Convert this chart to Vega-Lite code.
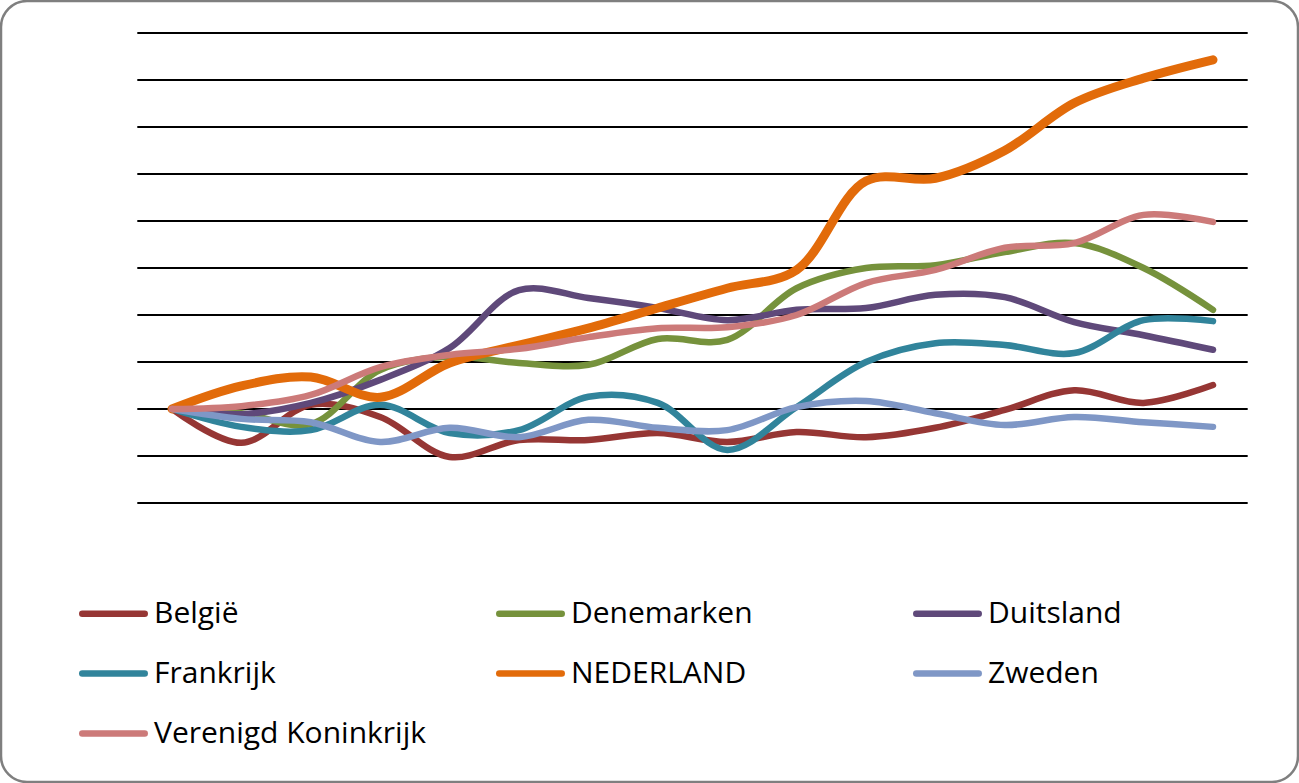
{
  "$schema": "https://vega.github.io/schema/vega-lite/v6.json",
  "width": 1297,
  "height": 781,
  "padding": 1,
  "autosize": {"type": "none"},
  "background": "white",
  "config": {
    "view": {"stroke": "#7f7f7f", "strokeWidth": 2.5, "cornerRadius": 26, "fill": "white"},
    "legend": {
      "labelFont": "Open Sans",
      "labelFontSize": 30,
      "labelColor": "black",
      "labelLimit": 400
    }
  },
  "datasets": {
    "grid": [
      {"niveau": 80}, {"niveau": 90}, {"niveau": 100}, {"niveau": 110}, {"niveau": 120},
      {"niveau": 130}, {"niveau": 140}, {"niveau": 150}, {"niveau": 160}, {"niveau": 170}, {"niveau": 180}
    ],
    "series": [
      {"land": "België", "punt": 1, "index": 100},
      {"land": "België", "punt": 2, "index": 92.8},
      {"land": "België", "punt": 3, "index": 100.9},
      {"land": "België", "punt": 4, "index": 98.3},
      {"land": "België", "punt": 5, "index": 89.8},
      {"land": "België", "punt": 6, "index": 93.4},
      {"land": "België", "punt": 7, "index": 93.4},
      {"land": "België", "punt": 8, "index": 94.9},
      {"land": "België", "punt": 9, "index": 93.0},
      {"land": "België", "punt": 10, "index": 95.1},
      {"land": "België", "punt": 11, "index": 94.0},
      {"land": "België", "punt": 12, "index": 96.0},
      {"land": "België", "punt": 13, "index": 99.8},
      {"land": "België", "punt": 14, "index": 104.0},
      {"land": "België", "punt": 15, "index": 101.3},
      {"land": "België", "punt": 16, "index": 105.1},
      {"land": "Denemarken", "punt": 1, "index": 100},
      {"land": "Denemarken", "punt": 2, "index": 99.1},
      {"land": "Denemarken", "punt": 3, "index": 96.8},
      {"land": "Denemarken", "punt": 4, "index": 108.3},
      {"land": "Denemarken", "punt": 5, "index": 111.1},
      {"land": "Denemarken", "punt": 6, "index": 109.8},
      {"land": "Denemarken", "punt": 7, "index": 109.4},
      {"land": "Denemarken", "punt": 8, "index": 114.9},
      {"land": "Denemarken", "punt": 9, "index": 114.7},
      {"land": "Denemarken", "punt": 10, "index": 125.7},
      {"land": "Denemarken", "punt": 11, "index": 130.0},
      {"land": "Denemarken", "punt": 12, "index": 130.6},
      {"land": "Denemarken", "punt": 13, "index": 133.4},
      {"land": "Denemarken", "punt": 14, "index": 135.3},
      {"land": "Denemarken", "punt": 15, "index": 130.0},
      {"land": "Denemarken", "punt": 16, "index": 121.1},
      {"land": "Duitsland", "punt": 1, "index": 100},
      {"land": "Duitsland", "punt": 2, "index": 98.9},
      {"land": "Duitsland", "punt": 3, "index": 101.3},
      {"land": "Duitsland", "punt": 4, "index": 106.2},
      {"land": "Duitsland", "punt": 5, "index": 113.0},
      {"land": "Duitsland", "punt": 6, "index": 125.3},
      {"land": "Duitsland", "punt": 7, "index": 123.6},
      {"land": "Duitsland", "punt": 8, "index": 121.5},
      {"land": "Duitsland", "punt": 9, "index": 118.9},
      {"land": "Duitsland", "punt": 10, "index": 121.1},
      {"land": "Duitsland", "punt": 11, "index": 121.5},
      {"land": "Duitsland", "punt": 12, "index": 124.3},
      {"land": "Duitsland", "punt": 13, "index": 123.8},
      {"land": "Duitsland", "punt": 14, "index": 118.5},
      {"land": "Duitsland", "punt": 15, "index": 115.7},
      {"land": "Duitsland", "punt": 16, "index": 112.6},
      {"land": "Frankrijk", "punt": 1, "index": 100},
      {"land": "Frankrijk", "punt": 2, "index": 96.2},
      {"land": "Frankrijk", "punt": 3, "index": 95.5},
      {"land": "Frankrijk", "punt": 4, "index": 100.9},
      {"land": "Frankrijk", "punt": 5, "index": 94.9},
      {"land": "Frankrijk", "punt": 6, "index": 95.5},
      {"land": "Frankrijk", "punt": 7, "index": 102.6},
      {"land": "Frankrijk", "punt": 8, "index": 101.3},
      {"land": "Frankrijk", "punt": 9, "index": 91.3},
      {"land": "Frankrijk", "punt": 10, "index": 100.4},
      {"land": "Frankrijk", "punt": 11, "index": 110.0},
      {"land": "Frankrijk", "punt": 12, "index": 114.0},
      {"land": "Frankrijk", "punt": 13, "index": 113.6},
      {"land": "Frankrijk", "punt": 14, "index": 111.9},
      {"land": "Frankrijk", "punt": 15, "index": 118.9},
      {"land": "Frankrijk", "punt": 16, "index": 118.7},
      {"land": "NEDERLAND", "punt": 1, "index": 100},
      {"land": "NEDERLAND", "punt": 2, "index": 104.9},
      {"land": "NEDERLAND", "punt": 3, "index": 106.8},
      {"land": "NEDERLAND", "punt": 4, "index": 102.5},
      {"land": "NEDERLAND", "punt": 5, "index": 109.8},
      {"land": "NEDERLAND", "punt": 6, "index": 113.6},
      {"land": "NEDERLAND", "punt": 7, "index": 117.2},
      {"land": "NEDERLAND", "punt": 8, "index": 121.5},
      {"land": "NEDERLAND", "punt": 9, "index": 125.7},
      {"land": "NEDERLAND", "punt": 10, "index": 129.6},
      {"land": "NEDERLAND", "punt": 11, "index": 148.5},
      {"land": "NEDERLAND", "punt": 12, "index": 149.1},
      {"land": "NEDERLAND", "punt": 13, "index": 155.0},
      {"land": "NEDERLAND", "punt": 14, "index": 165.1},
      {"land": "NEDERLAND", "punt": 15, "index": 170.4},
      {"land": "NEDERLAND", "punt": 16, "index": 174.3},
      {"land": "Zweden", "punt": 1, "index": 100},
      {"land": "Zweden", "punt": 2, "index": 97.9},
      {"land": "Zweden", "punt": 3, "index": 97.2},
      {"land": "Zweden", "punt": 4, "index": 93.0},
      {"land": "Zweden", "punt": 5, "index": 96.0},
      {"land": "Zweden", "punt": 6, "index": 94.0},
      {"land": "Zweden", "punt": 7, "index": 97.7},
      {"land": "Zweden", "punt": 8, "index": 96.0},
      {"land": "Zweden", "punt": 9, "index": 95.5},
      {"land": "Zweden", "punt": 10, "index": 100.4},
      {"land": "Zweden", "punt": 11, "index": 101.7},
      {"land": "Zweden", "punt": 12, "index": 99.1},
      {"land": "Zweden", "punt": 13, "index": 96.6},
      {"land": "Zweden", "punt": 14, "index": 98.3},
      {"land": "Zweden", "punt": 15, "index": 97.2},
      {"land": "Zweden", "punt": 16, "index": 96.2},
      {"land": "Verenigd Koninkrijk", "punt": 1, "index": 100},
      {"land": "Verenigd Koninkrijk", "punt": 2, "index": 100.6},
      {"land": "Verenigd Koninkrijk", "punt": 3, "index": 103.0},
      {"land": "Verenigd Koninkrijk", "punt": 4, "index": 108.9},
      {"land": "Verenigd Koninkrijk", "punt": 5, "index": 111.5},
      {"land": "Verenigd Koninkrijk", "punt": 6, "index": 112.8},
      {"land": "Verenigd Koninkrijk", "punt": 7, "index": 115.3},
      {"land": "Verenigd Koninkrijk", "punt": 8, "index": 117.2},
      {"land": "Verenigd Koninkrijk", "punt": 9, "index": 117.4},
      {"land": "Verenigd Koninkrijk", "punt": 10, "index": 120.0},
      {"land": "Verenigd Koninkrijk", "punt": 11, "index": 126.8},
      {"land": "Verenigd Koninkrijk", "punt": 12, "index": 129.6},
      {"land": "Verenigd Koninkrijk", "punt": 13, "index": 134.3},
      {"land": "Verenigd Koninkrijk", "punt": 14, "index": 135.3},
      {"land": "Verenigd Koninkrijk", "punt": 15, "index": 141.3},
      {"land": "Verenigd Koninkrijk", "punt": 16, "index": 139.8}
    ]
  },
  "layer": [
    {
      "data": {"name": "grid"},
      "mark": {"type": "rule", "color": "black", "strokeWidth": 2.2},
      "encoding": {
        "y": {"field": "niveau", "type": "quantitative", "scale": {"domain": [20.64, 186.81], "nice": false, "zero": false}, "axis": null},
        "x": {"datum": 0.5, "type": "quantitative", "scale": {"domain": [-1.464, 17.225], "nice": false, "zero": false}, "axis": null},
        "x2": {"datum": 16.5}
      }
    },
    {
      "data": {"name": "series"},
      "mark": {"type": "line", "interpolate": "catmull-rom", "strokeCap": "round", "strokeJoin": "round"},
      "encoding": {
        "x": {"field": "punt", "type": "quantitative", "scale": {"domain": [-1.464, 17.225], "nice": false, "zero": false}, "axis": null},
        "y": {"field": "index", "type": "quantitative", "scale": {"domain": [20.64, 186.81], "nice": false, "zero": false}, "axis": null},
        "color": {
          "field": "land",
          "type": "nominal",
          "scale": {
            "domain": ["België", "Denemarken", "Duitsland", "Frankrijk", "NEDERLAND", "Zweden", "Verenigd Koninkrijk"],
            "range": ["#963634", "#76923C", "#5F497A", "#31849B", "#E26B0A", "#7F97C6", "#CC7A79"]
          },
          "legend": {
            "title": null,
            "orient": "none",
            "legendX": 78,
            "legendY": 578,
            "columns": 3,
            "direction": "horizontal",
            "gridAlign": "all",
            "columnPadding": 60,
            "rowPadding": 10,
            "symbolType": "stroke",
            "symbolSize": 3900,
            "symbolStrokeWidth": 6.5,
            "labelOffset": 6,
            "encode": {"symbols": {"update": {"strokeCap": {"value": "round"}}}}
          }
        },
        "strokeWidth": {"condition": {"test": "datum.land === 'NEDERLAND'", "value": 9}, "value": 6.5}
      }
    }
  ]
}
